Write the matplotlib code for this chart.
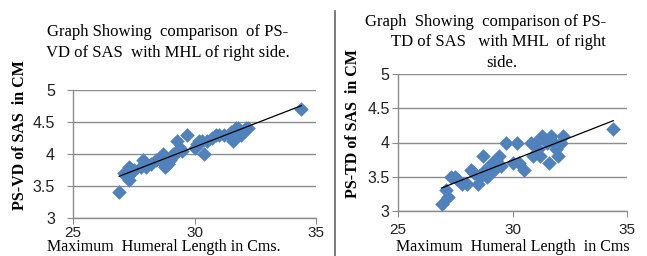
"""
PS-VD / PS-TD of SAS vs maximum humeral length (right side)
two scatter panels with linear trend lines
"""

import numpy as np
import matplotlib
matplotlib.use("Agg")
import matplotlib.pyplot as plt
from matplotlib.lines import Line2D

# left panel: PS-VD of SAS
mhl_vd = [26.9, 27.1, 27.2, 27.3, 27.3, 27.4, 27.5, 27.8, 27.9, 28.0, 28.2, 28.4,
          28.6, 28.7, 28.8, 28.9, 29.0, 29.1, 29.2, 29.3, 29.4, 29.5, 29.7, 30.0,
          30.1, 30.2, 30.3, 30.4, 30.5, 30.7, 30.9, 31.0, 31.2, 31.4, 31.5, 31.6,
          31.7, 31.8, 31.9, 32.0, 32.1, 32.2, 34.4]
ps_vd = [3.4, 3.7, 3.65, 3.8, 3.6, 3.7, 3.75, 3.8, 3.9, 3.8, 3.85, 3.9,
         3.9, 4.0, 3.8, 3.85, 3.9, 4.0, 4.0, 4.2, 4.1, 4.05, 4.3, 4.1,
         4.15, 4.2, 4.2, 4.0, 4.2, 4.25, 4.3, 4.3, 4.3, 4.3, 4.35, 4.2,
         4.4, 4.4, 4.3, 4.35, 4.4, 4.4, 4.7]

# right panel: PS-TD of SAS
mhl_td = [26.9, 27.1, 27.2, 27.3, 27.5, 27.6, 27.8, 28.0, 28.2, 28.3, 28.5, 28.6,
          28.7, 28.8, 28.9, 29.0, 29.1, 29.2, 29.3, 29.4, 29.5, 29.7, 30.0, 30.2,
          30.3, 30.5, 30.8, 30.9, 31.0, 31.1, 31.2, 31.3, 31.5, 31.6, 31.7, 31.8,
          31.9, 32.0, 32.1, 32.2, 34.4]
ps_td = [3.1, 3.3, 3.2, 3.5, 3.5, 3.45, 3.4, 3.4, 3.6, 3.55, 3.4, 3.5,
         3.8, 3.6, 3.5, 3.55, 3.7, 3.6, 3.75, 3.8, 3.65, 4.0, 3.7, 4.0,
         3.7, 3.6, 4.0, 3.8, 4.0, 3.9, 3.8, 4.1, 4.0, 3.7, 4.1, 4.0,
         3.9, 3.8, 4.0, 4.1, 4.2]

x_ticks = [25, 30, 35]
y_ticks = [3, 3.5, 4, 4.5, 5]

W, H = 647, 256
BLUE = '#4F81BD'
GRID = '#8C8C8C'
SERIF = 'Liberation Serif'
SANS = 'Liberation Sans'


def px(x, y):
    """pixel position (from top-left) -> figure fraction"""
    return x / W, 1 - y / H


def draw_panel(ax, xs, ys, ypad, xpad):
    ax.scatter(xs, ys, marker='D', s=55, color=BLUE, linewidths=0, zorder=3)
    k, b = np.polyfit(xs, ys, 1)
    xx = np.array([min(xs), max(xs)])
    ax.plot(xx, k * xx + b, color='black', lw=0.9, zorder=4)

    ax.set_xlim(25, 35)
    ax.set_ylim(3, 5)
    ax.set_xticks(x_ticks)
    ax.set_yticks(y_ticks)
    ax.set_xticklabels([str(t) for t in x_ticks])
    ax.set_yticklabels(['3', '3.5', '4', '4.5', '5'])
    ax.yaxis.grid(True, color=GRID, lw=1.0)
    ax.set_axisbelow(True)
    for side in ['top', 'right']:
        ax.spines[side].set_visible(False)
    for side in ['left', 'bottom']:
        ax.spines[side].set_color(GRID)
        ax.spines[side].set_linewidth(1.0)
    ax.tick_params(axis='x', direction='out', length=4, color=GRID, pad=xpad,
                   labelsize=11)
    ax.tick_params(axis='y', direction='out', length=4, color=GRID, pad=ypad,
                   labelsize=11.5)
    for lab in ax.get_xticklabels() + ax.get_yticklabels():
        lab.set_fontfamily(SANS)
        lab.set_color('#222222')


fig = plt.figure(figsize=(W / 100, H / 100), dpi=100)

ax1 = fig.add_axes([73 / W, 1 - 218 / H, (316 - 73) / W, (218 - 90) / H])
draw_panel(ax1, mhl_vd, ps_vd, ypad=9, xpad=2)

ax2 = fig.add_axes([398 / W, 1 - 211 / H, (627 - 398) / W, (211 - 74) / H])
draw_panel(ax2, mhl_td, ps_td, ypad=2, xpad=5)

# titles
title_kw = dict(family=SERIF, fontsize=12, ha='center', va='center')
fig.text(*px(168, 32), 'Graph Showing  comparison  of PS-', **title_kw)
fig.text(*px(168, 53), 'VD of SAS  with MHL of right side.', **title_kw)
fig.text(*px(486, 22), 'Graph  Showing  comparison of PS-', **title_kw)
fig.text(*px(498, 42), 'TD of SAS   with MHL  of right', **title_kw)
fig.text(*px(502, 63), 'side.', **title_kw)

# axis labels
fig.text(*px(20, 135), 'PS-VD of SAS  in CM', family=SERIF, fontsize=11.5,
         fontweight='bold', rotation=90, ha='center', va='center')
fig.text(*px(353, 124), 'PS-TD of SAS  in CM', family=SERIF, fontsize=11.5,
         fontweight='bold', rotation=90, ha='center', va='center')
fig.text(*px(164, 247), 'Maximum  Humeral Length in Cms.', family=SERIF,
         fontsize=11.5, ha='center', va='center')
fig.text(*px(513, 247), 'Maximum  Humeral Length  in Cms', family=SERIF,
         fontsize=11.5, ha='center', va='center')

# separator between the two panels
fig.add_artist(Line2D([335 / W, 335 / W], [1 - 11 / H, 0.0], color='#666666',
                      lw=1.2, transform=fig.transFigure))

fig.savefig('out.png', dpi=100)
